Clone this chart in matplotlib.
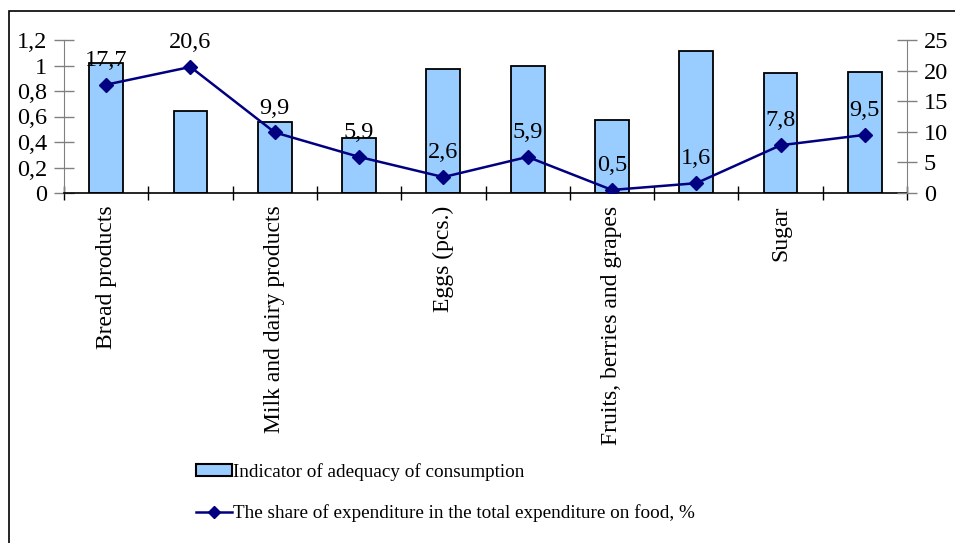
import matplotlib
matplotlib.use("Agg")
import matplotlib.pyplot as plt
from matplotlib.patches import Rectangle
from matplotlib.lines import Line2D
from matplotlib.ticker import FuncFormatter, FixedLocator

plt.rcParams['font.family'] = ['Liberation Serif', 'DejaVu Serif']

categories = ["Bread products", "", "Milk and dairy products", "", "Eggs (pcs.)", "",
              "Fruits, berries and grapes", "", "Sugar", ""]
adequacy = [1.02, 0.64, 0.56, 0.43, 0.97, 1.00, 0.57, 1.11, 0.94, 0.95]
share = [17.7, 20.6, 9.9, 5.9, 2.6, 5.9, 0.5, 1.6, 7.8, 9.5]

bar_label = "Indicator of adequacy of consumption"
line_label = "The share of expenditure in the total expenditure on food, %"

fig = plt.figure(figsize=(9.55, 5.43), dpi=100)
ax = fig.add_axes([64/955, 1-193/543, (907-64)/955, (193-40)/543])
x = list(range(len(categories)))

ax.bar(x, adequacy, width=0.4, color="#99CCFF", edgecolor="black", linewidth=1.3, zorder=2)
ax.set_xlim(-0.5, len(categories) - 0.5)
ax.set_ylim(0, 1.2)
ax.set_yticks([0, 0.2, 0.4, 0.6, 0.8, 1.0, 1.2])
fmt = FuncFormatter(lambda v, p: (f"{v:.1f}".rstrip('0').rstrip('.')).replace('.', ','))
ax.yaxis.set_major_formatter(fmt)
ax.set_xticks(x)
ax.set_xticklabels(categories, rotation=90, fontsize=17)
ax.xaxis.set_minor_locator(FixedLocator([i - 0.5 for i in range(len(categories) + 1)]))
ax.tick_params(axis='x', which='major', length=0, pad=9)
ax.tick_params(axis='x', which='minor', direction='inout', length=10, width=1, color='black')
ax.tick_params(axis='y', direction='inout', length=14, width=1, color='#808080', labelsize=17.5, pad=5)
for s in ['top', 'right']:
    ax.spines[s].set_visible(False)
ax.spines['left'].set_color('#808080')
ax.spines['bottom'].set_color('black')
ax.spines['bottom'].set_linewidth(1.2)

ax2 = ax.twinx()
ax2.plot(x, share, color="#000080", marker='D', markersize=7, linewidth=1.8, zorder=3)
ax2.set_ylim(0, 25)
ax2.set_yticks([0, 5, 10, 15, 20, 25])
ax2.tick_params(axis='y', direction='inout', length=14, width=1, color='#808080', labelsize=17.5, pad=5)
for s in ['top', 'left', 'bottom']:
    ax2.spines[s].set_visible(False)
ax2.spines['right'].set_color('#808080')
for xi, v in zip(x, share):
    ax2.annotate(f"{v:.1f}".replace('.', ','), (xi, v), xytext=(0, 10), textcoords='offset points',
                 ha='center', va='bottom', fontsize=17.5)

handles = [Rectangle((0, 0), 1, 1, facecolor="#99CCFF", edgecolor="black", linewidth=1.5),
           Line2D([0], [0], color="#000080", marker='D', markersize=6, linewidth=1.8)]
fig.legend(handles, [bar_label, line_label], loc='upper left', bbox_to_anchor=(179/955, 1-446/543),
           frameon=False, fontsize=13.8, handlelength=1.85, handletextpad=0.05, labelspacing=1.2,
           handleheight=0.6)

fig.patches.append(Rectangle((8.5/955, -0.05), 1.2, 1 - 11/543 + 0.05, transform=fig.transFigure,
                             fill=False, edgecolor='black', linewidth=1.2))

fig.savefig("out.png", dpi=100)
